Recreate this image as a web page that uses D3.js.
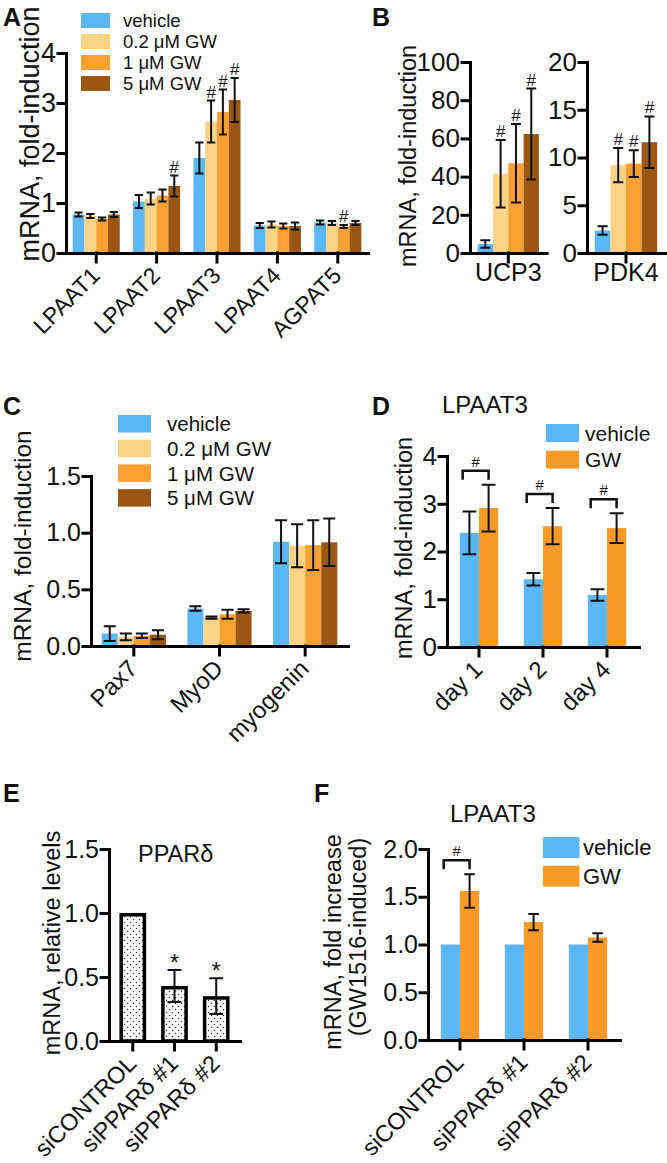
<!DOCTYPE html>
<html>
<head>
<meta charset="utf-8">
<script src="https://cdn.jsdelivr.net/npm/d3@7"></script>
<style>
  body { margin: 0; background: #fff; }
  text { font-family: 'Liberation Sans', Arial, Helvetica, sans-serif; fill: #111; }
</style>
</head>
<body>
<div id="svg"></div>
<script>
// series names
const doseGroups = ['vehicle', '0.2 \u03bcM GW', '1 \u03bcM GW', '5 \u03bcM GW']
const pairGroups = ['vehicle', 'GW']

// A: acyltransferases, mean / sem per dose
const genesA = ['LPAAT1', 'LPAAT2', 'LPAAT3', 'LPAAT4', 'AGPAT5']
const meanA = [[0.77, 0.74, 0.68, 0.77], [1.03, 1.09, 1.15, 1.34], [1.90, 2.63, 2.82, 3.06], [0.55, 0.57, 0.54, 0.54], [0.61, 0.60, 0.53, 0.60]]
const errA = [[0.04, 0.04, 0.03, 0.05], [0.13, 0.12, 0.12, 0.21], [0.31, 0.42, 0.45, 0.44], [0.05, 0.06, 0.05, 0.07], [0.04, 0.04, 0.03, 0.04]]
const sigA = [[0, 0, 0, 0], [0, 0, 0, 1], [0, 1, 1, 1], [0, 0, 0, 0], [0, 0, 1, 0]]
const ticksA = [0, 1, 2, 3, 4]

// B: PPARd targets
const genesUCP = ['UCP3']
const meanUCP = [[4.7, 41.5, 47.0, 62.3]]
const errUCP = [[2.0, 17.7, 20.5, 23.8]]
const sigUCP = [[0, 1, 1, 1]]
const ticksUCP = [0, 20, 40, 60, 80, 100]
const genesPDK = ['PDK4']
const meanPDK = [[2.35, 9.2, 9.37, 11.6]]
const errPDK = [[0.45, 1.8, 1.4, 2.7]]
const sigPDK = [[0, 1, 1, 1]]
const ticksPDK = [0, 5, 10, 15, 20]

// C: myogenic markers
const genesC = ['Pax7', 'MyoD', 'myogenin']
const meanC = [[0.11, 0.08, 0.09, 0.10], [0.33, 0.25, 0.28, 0.31], [0.92, 0.885, 0.89, 0.915]]
const errC = [[0.065, 0.03, 0.02, 0.04], [0.02, 0.01, 0.04, 0.015], [0.19, 0.19, 0.22, 0.21]]
const ticksC = [0, 0.5, 1, 1.5]

// D: LPAAT3 time course
const daysD = ['day 1', 'day 2', 'day 4']
const vehicleD = [2.39, 1.42, 1.09]
const vehicleErrD = [0.45, 0.13, 0.12]
const gwD = [2.91, 2.53, 2.49]
const gwErrD = [0.49, 0.38, 0.31]
const sigD = [1, 1, 1]
const ticksD = [0, 1, 2, 3, 4]

// E: PPARd knockdown
const sirnaE = ['siCONTROL', 'siPPAR\u03b4 #1', 'siPPAR\u03b4 #2']
const levelE = [1.0, 0.43, 0.35]
const levelErrE = [0, 0.125, 0.14]
const starE = [0, 1, 1]
const ticksE = [0, 0.5, 1, 1.5]

// F: LPAAT3 induction after knockdown
const sirnaF = ['siCONTROL', 'siPPAR\u03b4 #1', 'siPPAR\u03b4 #2']
const vehicleF = [1, 1, 1]
const gwF = [1.56, 1.235, 1.073]
const gwErrF = [0.175, 0.085, 0.045]
const sigF = [1, 0, 0]
const ticksF = [0, 0.5, 1, 1.5, 2]

window.onload = function() {

  const width = 667
  const height = 1163

  const doseColors = ['#5cb7f6', '#fed386', '#f9a032', '#9a5612']
  const pairColors = ['#5cb7f6', '#f89a28']

  const svg = d3.select('#svg')
                .append('svg')
                  .attr('width', width)
                  .attr('height', height)

  // stipple fill for panel E
  const pat = svg.append('defs').append('pattern')
    .attr('id', 'dots')
    .attr('patternUnits', 'userSpaceOnUse')
    .attr('width', 6).attr('height', 6)
  pat.append('rect').attr('width', 6).attr('height', 6).attr('fill', '#fff')
  pat.append('circle').attr('cx', 1.5).attr('cy', 1.5).attr('r', 0.75).attr('fill', '#333')
  pat.append('circle').attr('cx', 4.5).attr('cy', 4.5).attr('r', 0.75).attr('fill', '#333')

  function barPanel(p) {
    const g = svg.append('g')
    const y = d3.scaleLinear().domain([0, d3.max(p.ticks)]).range([p.bottom, p.top])
    const x = d3.scaleBand().domain(p.cats).range([p.left, p.right])
      .paddingInner(p.pad)
      .paddingOuter(p.outer !== undefined ? p.outer : p.pad / 2)
    const xs = d3.scaleBand().domain(d3.range(p.means[0].length)).range([0, x.bandwidth()])
    const bw = xs.bandwidth()
    const sw = p.stroke || 0

    const cells = p.cats.flatMap((c, i) => p.means[i].map((m, j) => ({
      c: c, i: i, j: j, m: m,
      e: p.errs[i][j],
      s: p.sig ? p.sig[i][j] : 0,
      cx: x(c) + xs(j) + bw / 2
    })))

    g.selectAll('rect.bar').data(cells).join('rect')
      .attr('class', 'bar')
      .attr('x', d => x(d.c) + xs(d.j) + sw / 2)
      .attr('width', bw - sw)
      .attr('y', d => y(d.m) + sw / 2)
      .attr('height', d => y(0) - y(d.m) - sw / 2)
      .attr('fill', d => p.colors[d.j])
      .attr('stroke', sw ? '#000' : 'none')
      .attr('stroke-width', sw)

    // error bars
    const cap = bw * p.cap
    g.selectAll('path.err').data(cells.filter(d => d.e > 0)).join('path')
      .attr('class', 'err')
      .attr('d', d => {
        const hi = y(d.m + d.e), lo = y(d.m - d.e)
        return 'M' + (d.cx - cap / 2) + ',' + hi + 'H' + (d.cx + cap / 2) +
               'M' + d.cx + ',' + hi + 'V' + lo +
               'M' + (d.cx - cap / 2) + ',' + lo + 'H' + (d.cx + cap / 2)
      })
      .attr('fill', 'none')
      .attr('stroke', '#111')
      .attr('stroke-width', p.errWidth || 2)

    // significance marks over single bars
    g.selectAll('text.sig').data(cells.filter(d => d.s)).join('text')
      .attr('class', 'sig')
      .attr('x', d => d.cx)
      .attr('y', d => y(d.m + d.e) - (p.sigGap || 3))
      .attr('text-anchor', 'middle')
      .attr('font-size', p.sigSize || 17)
      .text(p.sigText || '#')

    // brackets between the two bars of a pair
    if (p.bracket) {
      p.cats.forEach((c, i) => {
        if (!p.bracket[i]) return
        const top = y(d3.max(p.means[i].map((m, j) => m + p.errs[i][j]))) - 14
        const l = x(c) + bw * 0.15
        const r = x(c) + bw * 1.5
        g.append('path')
          .attr('d', 'M' + l + ',' + (top + 9) + 'V' + top + 'H' + r + 'V' + (top + 9))
          .attr('fill', 'none')
          .attr('stroke', '#111')
          .attr('stroke-width', 2.5)
        g.append('text')
          .attr('x', (l + r) / 2)
          .attr('y', top - 4)
          .attr('text-anchor', 'middle')
          .attr('font-size', 15)
          .text('#')
      })
    }

    // axes
    const ya = g.append('g')
      .attr('transform', 'translate(' + p.left + ',0)')
      .call(d3.axisLeft(y).tickValues(p.ticks).tickFormat(p.fmt)
              .tickSize(8).tickSizeOuter(0).tickPadding(2))
    ya.selectAll('text').attr('font-size', p.tickFont || 25)

    const xa = g.append('g')
      .attr('transform', 'translate(0,' + p.bottom + ')')
      .call(d3.axisBottom(x).tickSize(9).tickSizeOuter(0))
    const lab = xa.selectAll('text')
      .attr('y', 0).attr('dy', 0).attr('x', 0)
      .attr('font-size', p.catFont || 23)
    if (p.flat) {
      lab.attr('text-anchor', 'middle').attr('transform', 'translate(0,28)')
    } else {
      lab.attr('text-anchor', 'end').attr('transform', 'translate(5,24) rotate(-45)')
    }

    g.selectAll('.domain, .tick line')
      .attr('stroke', '#000')
      .attr('stroke-width', 3)
      .attr('stroke-linecap', 'square')
  }

  function legend(lx, ly, step, w, h, labels, colors, size, tx) {
    const lg = svg.append('g')
    lg.selectAll('rect').data(labels).join('rect')
      .attr('x', lx)
      .attr('y', (d, i) => ly + i * step)
      .attr('width', w)
      .attr('height', h)
      .attr('fill', (d, i) => colors[i])
    lg.selectAll('text').data(labels).join('text')
      .attr('x', tx)
      .attr('y', (d, i) => ly + i * step + h / 2)
      .attr('dy', '0.36em')
      .attr('font-size', size)
      .text(d => d)
  }

  function yLabel(txt, x, y, size) {
    svg.append('text')
      .attr('transform', 'translate(' + x + ',' + y + ') rotate(-90)')
      .attr('text-anchor', 'middle')
      .attr('font-size', size)
      .text(txt)
  }

  function plainText(txt, x, y, size, weight) {
    svg.append('text')
      .attr('x', x).attr('y', y)
      .attr('font-size', size)
      .attr('font-weight', weight || 'normal')
      .text(txt)
  }

  const fmtInt = d3.format('d')
  const fmt1 = d3.format('.1f')

  // ---- A
  barPanel({
    cats: genesA, means: meanA, errs: errA, sig: sigA, colors: doseColors,
    ticks: ticksA, fmt: fmtInt, left: 66, right: 368, top: 53, bottom: 253,
    pad: 0.22, cap: 0.7, tickFont: 27
  })
  legend(81, 13, 21, 29, 15, doseGroups, doseColors, 18.5, 123)
  yLabel('mRNA, fold-induction', 39, 134, 27)
  plainText('A', 3, 26, 25, 'bold')

  // ---- B
  barPanel({
    cats: genesUCP, means: meanUCP, errs: errUCP, sig: sigUCP, colors: doseColors,
    ticks: ticksUCP, fmt: fmtInt, left: 470, right: 546.6, top: 62, bottom: 253,
    pad: 0.2, outer: 0.1, cap: 0.65, flat: true, catFont: 25, tickFont: 26
  })
  barPanel({
    cats: genesPDK, means: meanPDK, errs: errPDK, sig: sigPDK, colors: doseColors,
    ticks: ticksPDK, fmt: fmtInt, left: 587, right: 665, top: 62, bottom: 253,
    pad: 0.2, outer: 0.1, cap: 0.65, flat: true, catFont: 25, tickFont: 26
  })
  yLabel('mRNA, fold-induction', 416, 156, 23.5)
  plainText('B', 372, 26, 25, 'bold')

  // ---- C
  barPanel({
    cats: genesC, means: meanC, errs: errC, colors: doseColors,
    ticks: ticksC, fmt: fmt1, left: 91, right: 348, top: 476, bottom: 646,
    pad: 0.25, cap: 0.75, catFont: 24
  })
  legend(118, 415, 24.7, 33, 17.5, doseGroups, doseColors, 20.5, 167)
  yLabel('mRNA, fold-induction', 31, 546, 24.5)
  plainText('C', 3, 415, 25, 'bold')

  // ---- D
  barPanel({
    cats: daysD,
    means: daysD.map((d, i) => [vehicleD[i], gwD[i]]),
    errs: daysD.map((d, i) => [vehicleErrD[i], gwErrD[i]]),
    colors: pairColors, bracket: sigD,
    ticks: ticksD, fmt: fmtInt, left: 447, right: 639, top: 456, bottom: 647,
    pad: 0.4, cap: 0.72, tickFont: 26, catFont: 24
  })
  legend(546, 424, 26.7, 33, 18, pairGroups, pairColors, 21, 585)
  yLabel('mRNA, fold-induction', 412, 548, 23.5)
  plainText('LPAAT3', 442, 413, 24)
  plainText('D', 372, 415, 25, 'bold')

  // ---- E
  barPanel({
    cats: sirnaE,
    means: sirnaE.map((d, i) => [levelE[i]]),
    errs: sirnaE.map((d, i) => [levelErrE[i]]),
    sig: sirnaE.map((d, i) => [starE[i]]),
    sigText: '*', sigSize: 23, sigGap: -1,
    colors: ['url(#dots)'], stroke: 3.5,
    ticks: ticksE, fmt: fmt1, left: 109, right: 240, top: 849, bottom: 1041,
    pad: 0.36, outer: 0.25, cap: 0.52, catFont: 23.5
  })
  yLabel('mRNA, relative levels', 60, 943, 23.5)
  plainText('PPAR\u03b4', 138, 862, 23.5)
  plainText('E', 3, 802, 25, 'bold')

  // ---- F
  barPanel({
    cats: sirnaF,
    means: sirnaF.map((d, i) => [vehicleF[i], gwF[i]]),
    errs: sirnaF.map((d, i) => [0, gwErrF[i]]),
    colors: pairColors, bracket: sigF,
    ticks: ticksF, fmt: fmt1, left: 428, right: 620, top: 849, bottom: 1040,
    pad: 0.4, cap: 0.55, catFont: 23.5
  })
  legend(543, 837, 28.7, 36.5, 21, pairGroups, pairColors, 22, 583)
  yLabel('mRNA, fold increase', 341, 942, 23.5)
  yLabel('(GW1516-induced)', 366, 937, 23.5)
  plainText('LPAAT3', 450, 822, 24)
  plainText('F', 314, 802, 25, 'bold')

};
</script>
</body>
</html>
